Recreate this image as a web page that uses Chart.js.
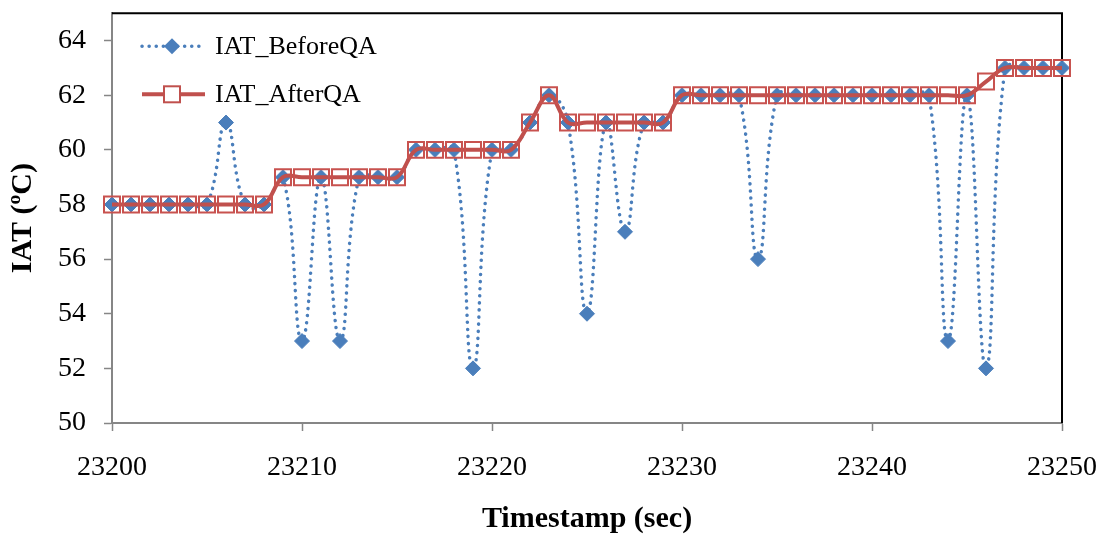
<!DOCTYPE html>
<html>
<head>
<meta charset="utf-8">
<script src="https://cdn.jsdelivr.net/npm/chart.js@4.4.0/dist/chart.umd.min.js"></script>
<style>
  html, body { margin: 0; padding: 0; background: #ffffff; }
  #wrap { width: 1105px; height: 539px; }
</style>
</head>
<body>
<div id="wrap"><canvas id="chart" width="1105" height="539"></canvas></div>
<script>
// Timestamps (sec)
const timestamps = [
  23200, 23201, 23202, 23203, 23204, 23205, 23206, 23207, 23208, 23209,
  23210, 23211, 23212, 23213, 23214, 23215, 23216, 23217, 23218, 23219,
  23220, 23221, 23222, 23223, 23224, 23225, 23226, 23227, 23228, 23229,
  23230, 23231, 23232, 23233, 23234, 23235, 23236, 23237, 23238, 23239,
  23240, 23241, 23242, 23243, 23244, 23245, 23246, 23247, 23248, 23249,
  23250
];

// Intake air temperature before quality assurance (ºC)
const iatBeforeQA = [
  58, 58, 58, 58, 58, 58, 61, 58, 58, 59,
  53, 59, 53, 59, 59, 59, 60, 60, 60, 52,
  60, 60, 61, 62, 61, 54, 61, 57, 61, 61,
  62, 62, 62, 62, 56, 62, 62, 62, 62, 62,
  62, 62, 62, 62, 53, 62, 52, 63, 63, 63,
  63
];

// Intake air temperature after quality assurance (ºC)
const iatAfterQA = [
  58, 58, 58, 58, 58, 58, 58, 58, 58, 59,
  59, 59, 59, 59, 59, 59, 60, 60, 60, 60,
  60, 60, 61, 62, 61, 61, 61, 61, 61, 61,
  62, 62, 62, 62, 62, 62, 62, 62, 62, 62,
  62, 62, 62, 62, 62, 62, 62.5, 63, 63, 63,
  63
];

const xTickValues = [23200, 23210, 23220, 23230, 23240, 23250];
const yTickValues = [50, 52, 54, 56, 58, 60, 62, 64];

const seriesNames = ['IAT_BeforeQA', 'IAT_AfterQA'];

const BLUE = '#4A7EBB';
const RED = '#C0504D';
const AXIS_GREY = '#868686';
const FONT = "'Liberation Serif', 'Times New Roman', serif";

// Top and right frame of the plot area
const frame = {
  id: 'frame',
  beforeDatasetsDraw(chart) {
    const { ctx, chartArea: a } = chart;
    ctx.save();
    ctx.strokeStyle = '#000000';
    ctx.lineWidth = 2;
    ctx.beginPath();
    ctx.moveTo(a.left, a.top);
    ctx.lineTo(a.right, a.top);
    ctx.lineTo(a.right, a.bottom);
    ctx.stroke();
    ctx.restore();
  }
};

// Legend inside the plot area, drawn with each series' own line and marker style
const insideLegend = {
  id: 'insideLegend',
  afterDraw(chart) {
    const { ctx, chartArea: a } = chart;
    const x0 = a.left + 30, x1 = a.left + 93, xm = a.left + 60;
    const rows = [a.top + 33, a.top + 81];
    ctx.save();

    // row 1: dotted line with diamond
    ctx.strokeStyle = BLUE;
    ctx.lineWidth = 3.5;
    ctx.lineCap = 'round';
    ctx.setLineDash([0.1, 7]);
    ctx.beginPath();
    ctx.moveTo(x0, rows[0]);
    ctx.lineTo(x1, rows[0]);
    ctx.stroke();
    ctx.setLineDash([]);
    ctx.fillStyle = BLUE;
    ctx.beginPath();
    ctx.moveTo(xm, rows[0] - 8);
    ctx.lineTo(xm + 8, rows[0]);
    ctx.lineTo(xm, rows[0] + 8);
    ctx.lineTo(xm - 8, rows[0]);
    ctx.closePath();
    ctx.fill();

    // row 2: solid line with hollow square
    ctx.strokeStyle = RED;
    ctx.lineWidth = 4;
    ctx.lineCap = 'butt';
    ctx.beginPath();
    ctx.moveTo(x0, rows[1]);
    ctx.lineTo(x1, rows[1]);
    ctx.stroke();
    ctx.lineWidth = 2;
    ctx.fillStyle = '#ffffff';
    ctx.fillRect(xm - 8, rows[1] - 8, 16, 16);
    ctx.strokeRect(xm - 8, rows[1] - 8, 16, 16);

    ctx.fillStyle = '#000000';
    ctx.font = "26px " + FONT;
    ctx.textAlign = 'left';
    ctx.textBaseline = 'middle';
    ctx.fillText(seriesNames[0], a.left + 103, rows[0] + 1);
    ctx.fillText(seriesNames[1], a.left + 103, rows[1] + 1);
    ctx.restore();
  }
};

const toPoints = (ys) => timestamps.map((t, i) => ({ x: t, y: ys[i] }));

new Chart(document.getElementById('chart'), {
  type: 'line',
  data: {
    datasets: [
      {
        label: seriesNames[0],
        data: toPoints(iatBeforeQA),
        order: 2,
        clip: false,
        borderColor: BLUE,
        borderWidth: 3.5,
        borderDash: [0.1, 7],
        borderCapStyle: 'round',
        tension: 0.45,
        pointStyle: 'rectRot',
        pointRadius: 7.5,
        pointBackgroundColor: BLUE,
        pointBorderColor: BLUE,
        pointBorderWidth: 1,
        fill: false
      },
      {
        label: seriesNames[1],
        data: toPoints(iatAfterQA),
        order: 1,
        clip: false,
        borderColor: RED,
        borderWidth: 4,
        tension: 0.4,
        pointStyle: 'rect',
        pointRadius: 11.3,
        pointBackgroundColor: 'rgba(255,255,255,0)',
        pointBorderColor: '#C8524F',
        pointBorderWidth: 2,
        fill: false
      }
    ]
  },
  options: {
    responsive: false,
    animation: false,
    events: [],
    layout: { padding: { top: 6, right: 43, bottom: 0, left: 0 } },
    plugins: {
      legend: { display: false },
      tooltip: { enabled: false }
    },
    scales: {
      x: {
        type: 'linear',
        min: 23200,
        max: 23250,
        afterBuildTicks: (s) => { s.ticks = xTickValues.map(v => ({ value: v })); },
        afterFit: (s) => { s.height = 116; s.paddingLeft = 0; s.paddingRight = 0; },
        ticks: {
          color: '#000000',
          font: { family: FONT, size: 28 },
          padding: 20,
          maxRotation: 0,
          autoSkip: false,
          callback: (v) => String(v)
        },
        grid: {
          display: true,
          drawOnChartArea: false,
          drawTicks: true,
          tickLength: 8,
          tickColor: AXIS_GREY,
          tickWidth: 1.5
        },
        border: { display: true, color: AXIS_GREY, width: 2 },
        title: {
          display: true,
          text: 'Timestamp (sec)',
          color: '#000000',
          font: { family: FONT, size: 30, weight: 'bold' },
          padding: { top: 0, bottom: 2 }
        }
      },
      y: {
        type: 'linear',
        min: 50,
        max: 65,
        afterBuildTicks: (s) => { s.ticks = yTickValues.map(v => ({ value: v })); },
        afterFit: (s) => { s.width = 112; s.paddingTop = 0; s.paddingBottom = 0; },
        ticks: {
          color: '#000000',
          font: { family: FONT, size: 28 },
          padding: 18,
          autoSkip: false,
          callback: (v) => String(v)
        },
        grid: {
          display: true,
          drawOnChartArea: false,
          drawTicks: true,
          tickLength: 8,
          tickColor: AXIS_GREY,
          tickWidth: 1.5
        },
        border: { display: true, color: AXIS_GREY, width: 2 },
        title: {
          display: true,
          text: 'IAT (ºC)',
          color: '#000000',
          font: { family: FONT, size: 30, weight: 'bold' },
          padding: { top: 5, bottom: 0 }
        }
      }
    }
  },
  plugins: [frame, insideLegend]
});
</script>
</body>
</html>
